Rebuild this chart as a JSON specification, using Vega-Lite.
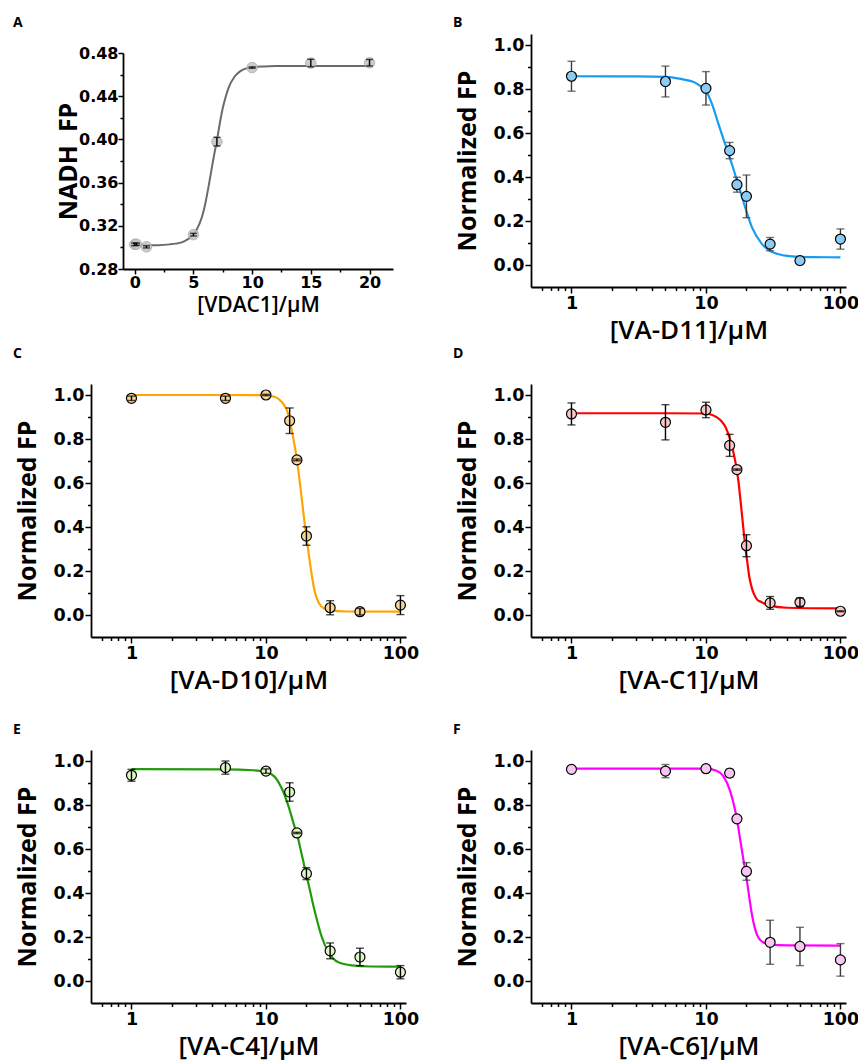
{
 "$schema": "https://vega.github.io/schema/vega-lite/v6.json",
 "background": "white",
 "padding": {"left": 13, "top": 16, "right": 0, "bottom": 0},
 "config": {
  "view": {"stroke": null},
  "font": "Open Sans",
  "axis": {"grid": false, "domainColor": "black", "domainWidth": 1.8, "tickColor": "black", "tickWidth": 1.5, "labelFont": "DejaVu Sans", "labelFontWeight": "bold", "labelFontSize": 17.5, "labelColor": "black", "labelPadding": 1, "labelFlush": false, "labelOverlap": false, "titleFont": "Open Sans", "titleFontWeight": "bold", "titleColor": "black", "titleFontSize": 25},
  "title": {"font": "Open Sans", "fontSize": 14, "fontWeight": "bold", "color": "black", "anchor": "start", "frame": "group"}
 },
 "datasets": {
  "A_pts": [{"x":0,"y":0.3028,"e":0.0012},{"x":0.15,"y":0.3030,"e":0.001},{"x":1,"y":0.3005,"e":0.001},{"x":5,"y":0.3118,"e":0.0012},{"x":7,"y":0.3979,"e":0.004},{"x":10,"y":0.4665,"e":0.0006},{"x":15,"y":0.4707,"e":0.0035},{"x":20,"y":0.4710,"e":0.003}],
  "A_fit": [{"x":0,"y":0.302},{"x":1,"y":0.302},{"x":2,"y":0.3021},{"x":3,"y":0.3028},{"x":3.5,"y":0.3035},{"x":4,"y":0.3047},{"x":4.5,"y":0.3075},{"x":5,"y":0.3118},{"x":5.5,"y":0.3215},{"x":5.75,"y":0.329},{"x":6,"y":0.34},{"x":6.25,"y":0.354},{"x":6.5,"y":0.3695},{"x":6.75,"y":0.385},{"x":7,"y":0.399},{"x":7.25,"y":0.415},{"x":7.5,"y":0.429},{"x":7.75,"y":0.4395},{"x":8,"y":0.448},{"x":8.5,"y":0.458},{"x":9,"y":0.4632},{"x":9.5,"y":0.4658},{"x":10,"y":0.4668},{"x":11,"y":0.4676},{"x":12,"y":0.4679},{"x":15,"y":0.468},{"x":20,"y":0.468}],
  "B_pts": [{"x":1,"y":0.858,"e":0.068},{"x":5,"y":0.834,"e":0.07},{"x":10,"y":0.803,"e":0.076},{"x":15,"y":0.52,"e":0.037},{"x":17,"y":0.365,"e":0.034},{"x":20,"y":0.312,"e":0.097},{"x":30,"y":0.095,"e":0.03},{"x":50,"y":0.02,"e":0.006},{"x":100,"y":0.118,"e":0.046}],
  "B_fit": [{"x":1,"y":0.858},{"x":3,"y":0.857},{"x":5,"y":0.855},{"x":6.6,"y":0.845},{"x":7.5,"y":0.838},{"x":8.3,"y":0.829},{"x":9,"y":0.815},{"x":10,"y":0.791},{"x":11.1,"y":0.731},{"x":12.4,"y":0.64},{"x":13.9,"y":0.549},{"x":15.6,"y":0.458},{"x":17.5,"y":0.36},{"x":19.6,"y":0.261},{"x":22,"y":0.171},{"x":26.1,"y":0.095},{"x":32.8,"y":0.053},{"x":43.6,"y":0.039},{"x":60,"y":0.036},{"x":100,"y":0.035}],
  "C_pts": [{"x":1,"y":0.985,"e":0.01},{"x":5,"y":0.985,"e":0.01},{"x":10,"y":1.0,"e":0.003},{"x":15,"y":0.883,"e":0.058},{"x":17,"y":0.705,"e":0.004},{"x":20,"y":0.359,"e":0.042},{"x":30,"y":0.033,"e":0.032},{"x":50,"y":0.015,"e":0.015},{"x":100,"y":0.045,"e":0.043}],
  "C_fit": [{"x":1,"y":1.0},{"x":5,"y":1.0},{"x":10,"y":0.999},{"x":11,"y":0.995},{"x":12,"y":0.988},{"x":13,"y":0.97},{"x":14,"y":0.943},{"x":14.5,"y":0.92},{"x":15,"y":0.885},{"x":15.5,"y":0.845},{"x":16,"y":0.8},{"x":16.5,"y":0.755},{"x":17,"y":0.705},{"x":17.5,"y":0.645},{"x":18,"y":0.585},{"x":18.5,"y":0.525},{"x":19,"y":0.462},{"x":19.5,"y":0.405},{"x":20,"y":0.355},{"x":21,"y":0.26},{"x":22,"y":0.175},{"x":23,"y":0.11},{"x":24,"y":0.072},{"x":25,"y":0.05},{"x":27,"y":0.03},{"x":30,"y":0.021},{"x":40,"y":0.016},{"x":100,"y":0.015}],
  "D_pts": [{"x":1,"y":0.914,"e":0.05},{"x":5,"y":0.876,"e":0.08},{"x":10,"y":0.932,"e":0.035},{"x":15,"y":0.771,"e":0.05},{"x":17,"y":0.661,"e":0.003},{"x":20,"y":0.315,"e":0.05},{"x":30,"y":0.055,"e":0.029},{"x":50,"y":0.058,"e":0.019},{"x":100,"y":0.017,"e":0.002}],
  "D_fit": [{"x":1,"y":0.917},{"x":5,"y":0.917},{"x":10,"y":0.916},{"x":11,"y":0.91},{"x":12,"y":0.899},{"x":13,"y":0.882},{"x":14,"y":0.853},{"x":15,"y":0.805},{"x":16,"y":0.74},{"x":17,"y":0.655},{"x":17.5,"y":0.6},{"x":18,"y":0.53},{"x":18.5,"y":0.46},{"x":19,"y":0.39},{"x":19.6,"y":0.311},{"x":20.3,"y":0.24},{"x":21,"y":0.174},{"x":22,"y":0.12},{"x":22.6,"y":0.099},{"x":24,"y":0.07},{"x":25.4,"y":0.061},{"x":29.3,"y":0.045},{"x":40,"y":0.033},{"x":100,"y":0.03}],
  "E_pts": [{"x":1,"y":0.935,"e":0.027},{"x":5,"y":0.97,"e":0.03},{"x":10,"y":0.954,"e":0.01},{"x":15,"y":0.859,"e":0.042},{"x":17,"y":0.673,"e":0.003},{"x":20,"y":0.488,"e":0.027},{"x":30,"y":0.137,"e":0.036},{"x":50,"y":0.109,"e":0.04},{"x":100,"y":0.04,"e":0.03}],
  "E_fit": [{"x":1,"y":0.963},{"x":5,"y":0.962},{"x":8,"y":0.958},{"x":10,"y":0.95},{"x":11.7,"y":0.926},{"x":13.1,"y":0.876},{"x":14.7,"y":0.795},{"x":16.4,"y":0.697},{"x":17,"y":0.668},{"x":18.4,"y":0.578},{"x":20,"y":0.48},{"x":20.7,"y":0.442},{"x":23.2,"y":0.31},{"x":26,"y":0.2},{"x":29.2,"y":0.13},{"x":34.6,"y":0.085},{"x":43.5,"y":0.071},{"x":60,"y":0.066},{"x":100,"y":0.065}],
  "F_pts": [{"x":1,"y":0.962,"e":0.004},{"x":5,"y":0.954,"e":0.03},{"x":10,"y":0.965,"e":0.004},{"x":15,"y":0.945,"e":0.018},{"x":17,"y":0.737,"e":0.003},{"x":20,"y":0.498,"e":0.04},{"x":30,"y":0.176,"e":0.1},{"x":50,"y":0.157,"e":0.087},{"x":100,"y":0.096,"e":0.074}],
  "F_fit": [{"x":1,"y":0.965},{"x":5,"y":0.965},{"x":10,"y":0.965},{"x":12,"y":0.956},{"x":13.5,"y":0.93},{"x":15,"y":0.87},{"x":16,"y":0.81},{"x":17,"y":0.735},{"x":18,"y":0.64},{"x":19,"y":0.55},{"x":20,"y":0.47},{"x":21,"y":0.38},{"x":22,"y":0.3},{"x":23,"y":0.245},{"x":24,"y":0.21},{"x":25,"y":0.19},{"x":27,"y":0.174},{"x":30,"y":0.166},{"x":40,"y":0.162},{"x":100,"y":0.161}]
 },
 "spacing": 34,
 "hconcat": [
  {
   "vconcat": [
    {
     "title": {"text": "A", "dx": -78, "offset": 4},
     "width": 302, "height": 235,
     "layer": [
      {"data": {"name": "A_fit"}, "mark": {"type": "line", "color": "#6b6b6b", "strokeWidth": 2, "interpolate": "monotone"},
       "encoding": {
        "x": {"field": "x", "type": "quantitative", "scale": {"domain": [-1, 22], "range": [32, 302], "nice": false, "zero": false}, "axis": {"orient": "bottom", "values": [2.5, 7.5, 12.5, 17.5], "labels": false, "domain": false, "tickSize": 3, "title": null}},
        "y": {"field": "y", "type": "quantitative", "scale": {"domain": [0.28, 0.48], "range": [235, 19], "nice": false, "zero": false}, "axis": {"orient": "left", "offset": -32, "values": [0.3, 0.34, 0.38, 0.42, 0.46], "labels": false, "domain": false, "tickSize": 3, "title": null}}}},
      {"data": {"name": "A_pts"}, "mark": {"type": "circle", "size": 110, "fill": "#c4c4c4", "stroke": "#aaaaaa", "strokeWidth": 1, "opacity": 0.85},
       "encoding": {
        "x": {"field": "x", "type": "quantitative", "scale": {"domain": [-1, 22], "range": [32, 302], "nice": false, "zero": false}, "axis": {"orient": "bottom", "values": [0, 5, 10, 15, 20], "tickSize": 5, "labelPadding": 0, "labelFontSize": 16, "title": "[VDAC1]/μM", "titleFontSize": 21, "titleFontWeight": 600, "titlePadding": 4}},
        "y": {"field": "y", "type": "quantitative", "scale": {"domain": [0.28, 0.48], "range": [235, 19], "nice": false, "zero": false}, "axis": {"orient": "left", "offset": -32, "values": [0.28, 0.32, 0.36, 0.4, 0.44, 0.48], "format": ".2f", "tickSize": 5, "labelPadding": 0, "labelFontSize": 16, "title": "NADH\u00a0 FP", "titleFontSize": 25, "titlePadding": -3}}}},
      {"data": {"name": "A_pts"}, "mark": {"type": "errorbar", "ticks": {"size": 7, "thickness": 1.4, "color": "black"}, "rule": {"strokeWidth": 1.4, "color": "black"}},
       "encoding": {
        "x": {"field": "x", "type": "quantitative", "scale": {"domain": [-1, 22], "range": [32, 302], "nice": false, "zero": false}, "axis": null},
        "y": {"field": "y", "type": "quantitative", "scale": {"domain": [0.28, 0.48], "range": [235, 19], "nice": false, "zero": false}, "axis": null},
        "yError": {"field": "e"}}}
     ],
     "resolve": {"axis": {"x": "independent", "y": "independent"}}
    },
    {
     "vconcat": [
      {
       "title": {"text": "C", "dx": -78, "offset": 23},
       "width": 315, "height": 253,
       "layer": [
        {"data": {"name": "C_fit"}, "mark": {"type": "line", "color": "#ffa500", "strokeWidth": 2.2, "interpolate": "monotone"},
         "encoding": {
          "x": {"field": "x", "type": "quantitative", "scale": {"type": "log", "domain": [0.5, 110], "nice": false}, "axis": {"orient": "bottom", "values": [0.6, 0.7, 0.8, 0.9, 2, 3, 4, 5, 6, 7, 8, 9, 20, 30, 40, 50, 60, 70, 80, 90], "labels": false, "domain": false, "tickSize": 3.5, "title": null}},
          "y": {"field": "y", "type": "quantitative", "scale": {"domain": [-0.1, 1.05], "nice": false, "zero": false}, "axis": {"orient": "left", "values": [0.1, 0.3, 0.5, 0.7, 0.9], "labels": false, "domain": false, "tickSize": 3.5, "title": null}}}},
        {"data": {"name": "C_pts"}, "mark": {"type": "circle", "size": 100, "fill": "#f8d595", "stroke": "black", "strokeWidth": 1.2, "opacity": 1},
         "encoding": {
          "x": {"field": "x", "type": "quantitative", "scale": {"type": "log", "domain": [0.5, 110], "nice": false}, "axis": {"orient": "bottom", "values": [1, 10, 100], "format": "d", "tickSize": 6, "title": "[VA-D10]/μM", "titleFontSize": 26, "titleFontWeight": 600, "titlePadding": 6}},
          "y": {"field": "y", "type": "quantitative", "scale": {"domain": [-0.1, 1.05], "nice": false, "zero": false}, "axis": {"orient": "left", "values": [0, 0.2, 0.4, 0.6, 0.8, 1], "format": ".1f", "tickSize": 6, "title": "Normalized FP", "titlePadding": 12}}}},
        {"data": {"name": "C_pts"}, "mark": {"type": "errorbar", "ticks": {"size": 8, "thickness": 1.4, "color": "black"}, "rule": {"strokeWidth": 1.4, "color": "black"}},
         "encoding": {
          "x": {"field": "x", "type": "quantitative", "scale": {"type": "log", "domain": [0.5, 110], "nice": false}, "axis": null},
          "y": {"field": "y", "type": "quantitative", "scale": {"domain": [-0.1, 1.05], "nice": false, "zero": false}, "axis": null},
          "yError": {"field": "e"}}}
       ],
       "resolve": {"axis": {"x": "independent", "y": "independent"}}
      },
      {
       "title": {"text": "E", "dx": -78, "offset": 13},
       "width": 315, "height": 253,
       "layer": [
        {"data": {"name": "E_fit"}, "mark": {"type": "line", "color": "#229a0c", "strokeWidth": 2.2, "interpolate": "monotone"},
         "encoding": {
          "x": {"field": "x", "type": "quantitative", "scale": {"type": "log", "domain": [0.5, 110], "nice": false}, "axis": {"orient": "bottom", "values": [0.6, 0.7, 0.8, 0.9, 2, 3, 4, 5, 6, 7, 8, 9, 20, 30, 40, 50, 60, 70, 80, 90], "labels": false, "domain": false, "tickSize": 3.5, "title": null}},
          "y": {"field": "y", "type": "quantitative", "scale": {"domain": [-0.1, 1.05], "nice": false, "zero": false}, "axis": {"orient": "left", "values": [0.1, 0.3, 0.5, 0.7, 0.9], "labels": false, "domain": false, "tickSize": 3.5, "title": null}}}},
        {"data": {"name": "E_pts"}, "mark": {"type": "circle", "size": 100, "fill": "#ddf6c2", "stroke": "black", "strokeWidth": 1.2, "opacity": 1},
         "encoding": {
          "x": {"field": "x", "type": "quantitative", "scale": {"type": "log", "domain": [0.5, 110], "nice": false}, "axis": {"orient": "bottom", "values": [1, 10, 100], "format": "d", "tickSize": 6, "title": "[VA-C4]/μM", "titleFontSize": 26, "titleFontWeight": 600, "titlePadding": 6}},
          "y": {"field": "y", "type": "quantitative", "scale": {"domain": [-0.1, 1.05], "nice": false, "zero": false}, "axis": {"orient": "left", "values": [0, 0.2, 0.4, 0.6, 0.8, 1], "format": ".1f", "tickSize": 6, "title": "Normalized FP", "titlePadding": 12}}}},
        {"data": {"name": "E_pts"}, "mark": {"type": "errorbar", "ticks": {"size": 8, "thickness": 1.4, "color": "black"}, "rule": {"strokeWidth": 1.4, "color": "black"}},
         "encoding": {
          "x": {"field": "x", "type": "quantitative", "scale": {"type": "log", "domain": [0.5, 110], "nice": false}, "axis": null},
          "y": {"field": "y", "type": "quantitative", "scale": {"domain": [-0.1, 1.05], "nice": false, "zero": false}, "axis": null},
          "yError": {"field": "e"}}}
       ],
       "resolve": {"axis": {"x": "independent", "y": "independent"}}
      }
     ],
     "spacing": 29
    }
   ],
   "spacing": 32
  },
  {
   "vconcat": [
    {
     "vconcat": [
      {
       "title": {"text": "B", "dx": -78, "offset": 4},
       "width": 315, "height": 253,
       "layer": [
        {"data": {"name": "B_fit"}, "mark": {"type": "line", "color": "#149cf0", "strokeWidth": 2.2, "interpolate": "monotone"},
         "encoding": {
          "x": {"field": "x", "type": "quantitative", "scale": {"type": "log", "domain": [0.5, 110], "nice": false}, "axis": {"orient": "bottom", "values": [0.6, 0.7, 0.8, 0.9, 2, 3, 4, 5, 6, 7, 8, 9, 20, 30, 40, 50, 60, 70, 80, 90], "labels": false, "domain": false, "tickSize": 3.5, "title": null}},
          "y": {"field": "y", "type": "quantitative", "scale": {"domain": [-0.1, 1.05], "nice": false, "zero": false}, "axis": {"orient": "left", "values": [0.1, 0.3, 0.5, 0.7, 0.9], "labels": false, "domain": false, "tickSize": 3.5, "title": null}}}},
        {"data": {"name": "B_pts"}, "mark": {"type": "errorbar", "ticks": {"size": 8, "thickness": 1.4, "color": "#3a3a3a"}, "rule": {"strokeWidth": 1.4, "color": "#3a3a3a"}},
         "encoding": {
          "x": {"field": "x", "type": "quantitative", "scale": {"type": "log", "domain": [0.5, 110], "nice": false}, "axis": null},
          "y": {"field": "y", "type": "quantitative", "scale": {"domain": [-0.1, 1.05], "nice": false, "zero": false}, "axis": null},
          "yError": {"field": "e"}}},
        {"data": {"name": "B_pts"}, "mark": {"type": "circle", "size": 100, "fill": "#8dcbf3", "stroke": "black", "strokeWidth": 1.2, "opacity": 1},
         "encoding": {
          "x": {"field": "x", "type": "quantitative", "scale": {"type": "log", "domain": [0.5, 110], "nice": false}, "axis": {"orient": "bottom", "values": [1, 10, 100], "format": "d", "tickSize": 6, "title": "[VA-D11]/μM", "titleFontSize": 26, "titleFontWeight": 600, "titlePadding": 6}},
          "y": {"field": "y", "type": "quantitative", "scale": {"domain": [-0.1, 1.05], "nice": false, "zero": false}, "axis": {"orient": "left", "values": [0, 0.2, 0.4, 0.6, 0.8, 1], "format": ".1f", "tickSize": 6, "title": "Normalized FP", "titlePadding": 12}}}}
       ],
       "resolve": {"axis": {"x": "independent", "y": "independent"}}
      },
      {
       "title": {"text": "D", "dx": -78, "offset": 23},
       "width": 315, "height": 253,
       "layer": [
        {"data": {"name": "D_fit"}, "mark": {"type": "line", "color": "#ff0000", "strokeWidth": 2.2, "interpolate": "monotone"},
         "encoding": {
          "x": {"field": "x", "type": "quantitative", "scale": {"type": "log", "domain": [0.5, 110], "nice": false}, "axis": {"orient": "bottom", "values": [0.6, 0.7, 0.8, 0.9, 2, 3, 4, 5, 6, 7, 8, 9, 20, 30, 40, 50, 60, 70, 80, 90], "labels": false, "domain": false, "tickSize": 3.5, "title": null}},
          "y": {"field": "y", "type": "quantitative", "scale": {"domain": [-0.1, 1.05], "nice": false, "zero": false}, "axis": {"orient": "left", "values": [0.1, 0.3, 0.5, 0.7, 0.9], "labels": false, "domain": false, "tickSize": 3.5, "title": null}}}},
        {"data": {"name": "D_pts"}, "mark": {"type": "circle", "size": 100, "fill": "#f9c8c8", "stroke": "black", "strokeWidth": 1.2, "opacity": 1},
         "encoding": {
          "x": {"field": "x", "type": "quantitative", "scale": {"type": "log", "domain": [0.5, 110], "nice": false}, "axis": {"orient": "bottom", "values": [1, 10, 100], "format": "d", "tickSize": 6, "title": "[VA-C1]/μM", "titleFontSize": 26, "titleFontWeight": 600, "titlePadding": 6}},
          "y": {"field": "y", "type": "quantitative", "scale": {"domain": [-0.1, 1.05], "nice": false, "zero": false}, "axis": {"orient": "left", "values": [0, 0.2, 0.4, 0.6, 0.8, 1], "format": ".1f", "tickSize": 6, "title": "Normalized FP", "titlePadding": 12}}}},
        {"data": {"name": "D_pts"}, "mark": {"type": "errorbar", "ticks": {"size": 8, "thickness": 1.4, "color": "black"}, "rule": {"strokeWidth": 1.4, "color": "black"}},
         "encoding": {
          "x": {"field": "x", "type": "quantitative", "scale": {"type": "log", "domain": [0.5, 110], "nice": false}, "axis": null},
          "y": {"field": "y", "type": "quantitative", "scale": {"domain": [-0.1, 1.05], "nice": false, "zero": false}, "axis": null},
          "yError": {"field": "e"}}}
       ],
       "resolve": {"axis": {"x": "independent", "y": "independent"}}
      }
     ],
     "spacing": 3
    },
    {
     "title": {"text": "F", "dx": -78, "offset": 13},
     "width": 315, "height": 253,
     "layer": [
      {"data": {"name": "F_fit"}, "mark": {"type": "line", "color": "#ff00ff", "strokeWidth": 2.2, "interpolate": "monotone"},
       "encoding": {
        "x": {"field": "x", "type": "quantitative", "scale": {"type": "log", "domain": [0.5, 110], "nice": false}, "axis": {"orient": "bottom", "values": [0.6, 0.7, 0.8, 0.9, 2, 3, 4, 5, 6, 7, 8, 9, 20, 30, 40, 50, 60, 70, 80, 90], "labels": false, "domain": false, "tickSize": 3.5, "title": null}},
        "y": {"field": "y", "type": "quantitative", "scale": {"domain": [-0.1, 1.05], "nice": false, "zero": false}, "axis": {"orient": "left", "values": [0.1, 0.3, 0.5, 0.7, 0.9], "labels": false, "domain": false, "tickSize": 3.5, "title": null}}}},
      {"data": {"name": "F_pts"}, "mark": {"type": "errorbar", "ticks": {"size": 8, "thickness": 1.4, "color": "#3a3a3a"}, "rule": {"strokeWidth": 1.4, "color": "#3a3a3a"}},
       "encoding": {
        "x": {"field": "x", "type": "quantitative", "scale": {"type": "log", "domain": [0.5, 110], "nice": false}, "axis": null},
        "y": {"field": "y", "type": "quantitative", "scale": {"domain": [-0.1, 1.05], "nice": false, "zero": false}, "axis": null},
        "yError": {"field": "e"}}},
      {"data": {"name": "F_pts"}, "mark": {"type": "circle", "size": 100, "fill": "#f7c7f2", "stroke": "black", "strokeWidth": 1.2, "opacity": 1},
       "encoding": {
        "x": {"field": "x", "type": "quantitative", "scale": {"type": "log", "domain": [0.5, 110], "nice": false}, "axis": {"orient": "bottom", "values": [1, 10, 100], "format": "d", "tickSize": 6, "title": "[VA-C6]/μM", "titleFontSize": 26, "titleFontWeight": 600, "titlePadding": 6}},
        "y": {"field": "y", "type": "quantitative", "scale": {"domain": [-0.1, 1.05], "nice": false, "zero": false}, "axis": {"orient": "left", "values": [0, 0.2, 0.4, 0.6, 0.8, 1], "format": ".1f", "tickSize": 6, "title": "Normalized FP", "titlePadding": 12}}}}
     ],
     "resolve": {"axis": {"x": "independent", "y": "independent"}}
    }
   ],
   "spacing": 29
  }
 ]
}
